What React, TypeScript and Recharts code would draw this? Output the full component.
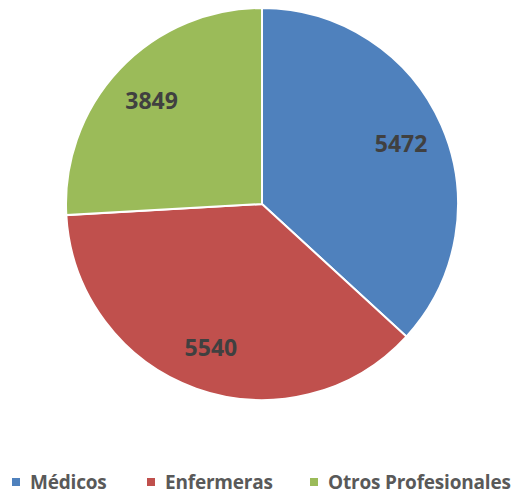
import React from "react";
import { PieChart, Pie, Cell } from "recharts";

const categories = ["Médicos", "Enfermeras", "Otros Profesionales"];
const values = [5472, 5540, 3849];
const colors = ["#4F81BD", "#C0504D", "#9BBB59"];

const data = categories.map((name, i) => ({ name, value: values[i] }));

const RAD = Math.PI / 180;
const renderLabel = (props: any) => {
  const { cx, cy, midAngle, outerRadius, value } = props;
  const r = outerRadius * 0.775;
  const x = cx + r * Math.cos(-midAngle * RAD);
  const y = cy + r * Math.sin(-midAngle * RAD);
  return (
    <text
      x={x}
      y={y}
      fill="#404040"
      textAnchor="middle"
      dominantBaseline="central"
      fontFamily="'Open Sans', sans-serif"
      fontWeight="bold"
      fontSize={23}
    >
      {value}
    </text>
  );
};

const legendX = [4, 139, 302];

export default function App() {
  return (
    <div style={{ position: "relative", width: 509, height: 484, fontFamily: "'Open Sans', sans-serif" }}>
      <PieChart width={509} height={460} margin={{ top: 0, right: 0, bottom: 0, left: 0 }}>
        <Pie
          data={data}
          dataKey="value"
          nameKey="name"
          cx={254}
          cy={196}
          outerRadius={196}
          startAngle={90}
          endAngle={-270}
          stroke="#FFFFFF"
          strokeWidth={2}
          label={renderLabel}
          labelLine={false}
          isAnimationActive={false}
        >
          {data.map((d, i) => (
            <Cell key={d.name} fill={colors[i]} />
          ))}
        </Pie>
      </PieChart>
      {categories.map((c, i) => (
        <div
          key={c}
          style={{
            position: "absolute",
            left: legendX[i],
            top: 465,
            height: 18,
            display: "flex",
            alignItems: "center",
            whiteSpace: "nowrap",
          }}
        >
          <span style={{ display: "inline-block", width: 8, height: 8, background: colors[i], marginRight: 10 }} />
          <span style={{ color: "#595959", fontWeight: "bold", fontSize: 19, lineHeight: "18px", letterSpacing: -0.2 }}>{c}</span>
        </div>
      ))}
    </div>
  );
}
